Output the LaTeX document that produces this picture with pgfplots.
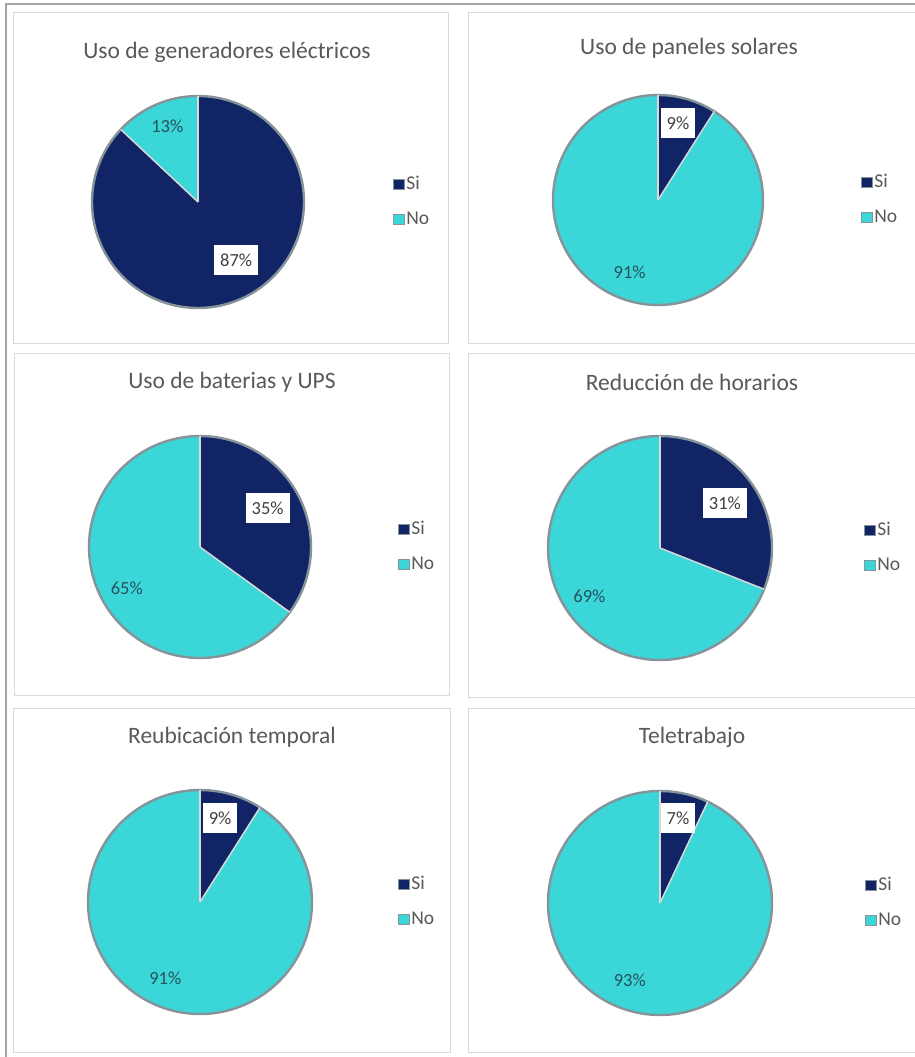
\documentclass[border=0pt]{standalone}
\usepackage{fontspec}
\setmainfont{Carlito}
\usepackage{pgfplots}
\pgfplotsset{compat=1.18}
\definecolor{navy}{HTML}{102466}
\definecolor{cyanp}{HTML}{3AD6D8}
\definecolor{rim}{HTML}{86949A}
\definecolor{titlec}{HTML}{595959}
\definecolor{nolab}{HTML}{26525D}
\definecolor{silab}{HTML}{404040}
\definecolor{boxc}{HTML}{D9D9D9}
\definecolor{framec}{HTML}{A6A6A6}

\newcommand{\tfont}{\fontsize{23.5}{28}\selectfont}
\newcommand{\lfont}{\fontsize{18.5}{22}\selectfont}
\newcommand{\gfont}{\fontsize{19.5}{23}\selectfont}

\tikzset{
  silabel/.style={fill=white, text=silab, font=\lfont, inner xsep=6pt, minimum height=30pt},
  nolabel/.style={text=nolab, font=\lfont},
}
\pgfplotsset{
  piechart/.style={anchor=center, scale only axis, hide axis, clip=false,
    xmin=-1, xmax=1, ymin=-1, ymax=1,
    legend style={at={(axis cs:0,0)}, anchor=west, draw=none, fill=none,
      font=\gfont, text=titlec, row sep=18pt, column sep=1.5pt,
      nodes={inner sep=0pt, text height=13pt, text depth=4pt},
      cells={anchor=west}},
    legend cell align=left},
}

% #1 = percent "Si", #2 = percent "No"; slices run clockwise from 12 o'clock
\newcommand{\pieslices}[2]{%
  \addplot[fill=cyanp, draw=none, domain={90-3.6*(#1+#2)}:{90-3.6*#1}, samples=120, forget plot]
    ({cos(x)},{sin(x)}) -- (axis cs:0,0) -- cycle;
  \addplot[fill=navy, draw=none, domain={90-3.6*#1}:90, samples=120, forget plot]
    ({cos(x)},{sin(x)}) -- (axis cs:0,0) -- cycle;
  \addplot[draw=rim, line width=2.4pt, domain=0:360, samples=181, forget plot]
    ({cos(x)},{sin(x)});
  \addplot[draw=white!70!gray, line width=1.5pt, domain=0:1, samples=2, forget plot]
    ({0},{x});
  \addplot[draw=white!70!gray, line width=1.5pt, domain=0:1, samples=2, forget plot]
    ({x*cos(90-3.6*#1)},{x*sin(90-3.6*#1)});
  \addlegendimage{legend image code/.code={\fill[navy] (0pt,-5pt) rectangle (11pt,5pt);\draw[rim,line width=0.6pt] (0pt,-5pt) rectangle (11pt,5pt);}}
  \addlegendimage{legend image code/.code={\fill[cyanp] (0pt,-5pt) rectangle (11pt,5pt);\draw[rim,line width=0.6pt] (0pt,-5pt) rectangle (11pt,5pt);}}
  \legend{Si,No}
}

\begin{document}
\begin{tikzpicture}
\path[use as bounding box] (0pt,0pt) rectangle (915pt,-1057pt);
\clip (0pt,0pt) rectangle (915pt,-1057pt);
\fill[white] (0pt,0pt) rectangle (915pt,-1057pt);
% outer frame
\draw[framec, line width=1.5pt] (6pt,-4pt) rectangle (960pt,-1090pt);
% panel boxes
\draw[boxc, line width=1pt, fill=white] (13pt,-13pt) rectangle (448pt,-343pt);
\draw[boxc, line width=1pt, fill=white] (468pt,-13pt) rectangle (930pt,-343pt);
\draw[boxc, line width=1pt, fill=white] (14pt,-353pt) rectangle (449pt,-695pt);
\draw[boxc, line width=1pt, fill=white] (468pt,-353pt) rectangle (930pt,-697pt);
\draw[boxc, line width=1pt, fill=white] (13pt,-708pt) rectangle (450pt,-1052pt);
\draw[boxc, line width=1pt, fill=white] (468pt,-708pt) rectangle (930pt,-1052pt);
% titles
\node[text=titlec, font=\tfont] at (227pt,-52pt) {Uso de generadores eléctricos};
\node[text=titlec, font=\tfont] at (689pt,-48pt) {Uso de paneles solares};
\node[text=titlec, font=\tfont] at (232pt,-382pt) {Uso de baterias y UPS};
\node[text=titlec, font=\tfont] at (692pt,-382pt) {Reducción de horarios};
\node[text=titlec, font=\tfont] at (232pt,-737pt) {Reubicación temporal};
\node[text=titlec, font=\tfont] at (692pt,-737pt) {Teletrabajo};

% 1: Uso de generadores electricos
\begin{axis}[piechart, at={(198pt,-202pt)}, width=212pt, height=212pt,
  legend style={xshift=192pt}]
  \pieslices{87}{13}
  \node[silabel] at (axis cs:0.36,-0.55) {87\%};
  \node[nolabel] at (axis cs:-0.29,0.71) {13\%};
\end{axis}
% 2: Uso de paneles solares
\begin{axis}[piechart, at={(658pt,-200pt)}, width=210pt, height=210pt,
  legend style={xshift=200pt}]
  \pieslices{9}{91}
  \node[silabel] at (axis cs:0.19,0.73) {9\%};
  \node[nolabel] at (axis cs:-0.27,-0.69) {91\%};
\end{axis}
% 3: Uso de baterias y UPS
\begin{axis}[piechart, at={(200pt,-547pt)}, width=222pt, height=222pt,
  legend style={xshift=195pt}]
  \pieslices{35}{65}
  \node[silabel] at (axis cs:0.61,0.35) {35\%};
  \node[nolabel] at (axis cs:-0.66,-0.37) {65\%};
\end{axis}
% 4: Reduccion de horarios
\begin{axis}[piechart, at={(660pt,-548pt)}, width=224pt, height=224pt,
  legend style={xshift=201pt}]
  \pieslices{31}{69}
  \node[silabel] at (axis cs:0.58,0.40) {31\%};
  \node[nolabel] at (axis cs:-0.63,-0.43) {69\%};
\end{axis}
% 5: Reubicacion temporal
\begin{axis}[piechart, at={(200pt,-902pt)}, width=224pt, height=224pt,
  legend style={xshift=195pt}]
  \pieslices{9}{91}
  \node[silabel] at (axis cs:0.18,0.75) {9\%};
  \node[nolabel] at (axis cs:-0.31,-0.68) {91\%};
\end{axis}
% 6: Teletrabajo
\begin{axis}[piechart, at={(660pt,-903pt)}, width=224pt, height=224pt,
  legend style={xshift=202pt}]
  \pieslices{7}{93}
  \node[silabel] at (axis cs:0.16,0.76) {7\%};
  \node[nolabel] at (axis cs:-0.27,-0.69) {93\%};
\end{axis}
\end{tikzpicture}
\end{document}
